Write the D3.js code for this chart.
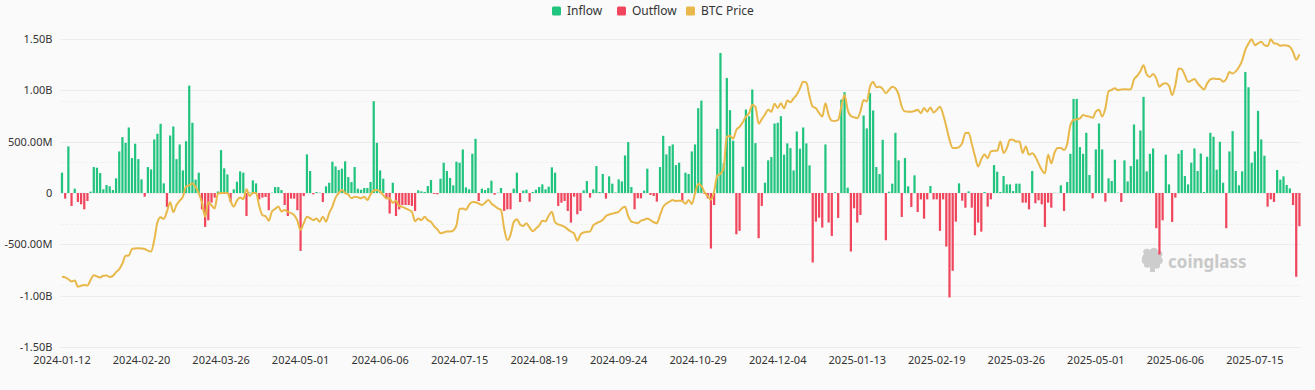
<!DOCTYPE html>
<html>
<head>
<meta charset="utf-8">
<script src="https://cdn.jsdelivr.net/npm/d3@7/dist/d3.min.js"></script>
<style>
  html, body { margin: 0; padding: 0; background: #fafafa; }
  svg { display: block; font-family: "Noto Sans", "Open Sans", sans-serif; }
</style>
</head>
<body>
<svg id="chart" width="1315" height="390"></svg>
<script>
// ---------- DATA ----------
const startDate = "2024-01-12";
const marketHolidays = ["2024-01-15","2024-02-19","2024-03-29","2024-05-27","2024-06-19","2024-07-04","2024-09-02","2024-11-28","2024-12-25","2025-01-01","2025-01-09","2025-01-20","2025-02-17","2025-04-18","2025-05-26","2025-06-19","2025-07-04"];
const tickLabels = ["2024-01-12","2024-02-20","2024-03-26","2024-05-01","2024-06-06","2024-07-15","2024-08-19","2024-09-24","2024-10-29","2024-12-04","2025-01-13","2025-02-19","2025-03-26","2025-05-01","2025-06-06","2025-07-15"];
const seriesNames = ["Inflow", "Outflow", "BTC Price"];

// Daily net flow (USD millions), one per trading day
const netFlowM = [
198,-55,454,-126,42,-87,-110,-159,-78,13,
253,246,194,36,78,65,29,143,405,544,
489,638,340,480,330,133,-36,253,230,522,
577,674,94,-136,560,648,330,473,220,505,
1046,684,130,198,-159,-330,-266,-94,-45,15,
418,240,181,-87,36,110,210,198,-224,5,
123,94,-62,-45,-39,-168,3,58,58,29,
-117,-224,-55,-55,-168,-564,-30,376,214,-13,
10,3,-87,65,100,305,259,224,237,308,
155,107,253,42,32,49,49,107,894,489,
220,139,-60,-200,100,-224,-159,-117,-117,-117,
-126,-175,26,16,10,68,126,-10,-13,139,
295,214,146,75,305,295,424,55,36,382,
528,-78,42,29,49,120,-16,3,49,-175,
-159,-159,42,198,-87,23,32,-84,10,32,
58,84,36,62,250,198,-126,-94,-78,-175,
-288,-36,-207,-175,26,117,-45,36,262,10,
185,-55,162,91,5,133,113,366,496,58,
-159,-52,-52,23,237,-19,-29,-84,253,557,
376,457,473,272,295,-78,198,185,405,473,
826,900,-10,-52,-541,-117,625,1364,288,1121,
807,509,-402,-369,256,813,748,1008,486,-440,
-126,100,318,350,677,684,748,373,483,437,
220,599,431,638,483,269,-677,-279,-240,-337,
473,-288,-418,6,-243,910,982,52,-570,-149,
-288,-214,755,629,975,804,253,185,518,-460,
13,91,586,318,-233,340,65,-136,172,-185,
-62,-250,-62,68,-62,-62,-369,-62,-522,-1017,
-758,-279,94,-75,-143,16,-143,-412,-288,-376,
10,-133,-62,272,207,10,165,84,84,19,
91,91,-94,-94,-159,214,-100,-71,-110,-330,
-94,-143,2,1,75,-175,107,382,917,917,
447,382,586,175,-52,424,677,424,-84,143,
117,324,3,-87,318,113,262,667,327,609,
936,211,382,434,-343,-600,-266,373,84,-282,
-45,382,418,165,84,295,434,214,385,10,
353,586,548,227,499,100,-343,405,603,214,
75,211,1179,1030,295,405,800,522,363,-133,
-62,-87,224,130,162,78,45,-117,-816,-324
];

// BTC price (USD thousands), one per trading day
const btcPriceK = [
42.8,42.6,42.0,41.3,41.6,39.6,39.9,40.1,40.0,41.8,
43.3,42.9,42.6,43.1,43.2,42.7,43.1,44.3,45.3,47.1,
49.6,49.7,51.8,52.0,52.1,52.0,51.8,51.3,51.0,54.7,
60.5,62.1,61.6,64.0,67.0,63.8,66.1,67.5,68.8,72.1,
72.5,73.1,72.0,69.9,67.0,62.3,67.0,66.0,65.0,69.8,
70.0,70.0,70.0,67.4,65.6,67.5,68.5,68.0,71.2,69.0,
70.0,70.0,65.8,62.8,62.5,61.0,64.0,64.8,65.6,64.0,
64.5,63.9,63.5,62.8,61.0,58.0,60.2,62.3,61.8,61.2,
61.7,60.7,62.3,60.7,63.5,65.6,68.5,70.0,71.0,70.0,
69.5,68.3,68.8,68.6,68.3,68.8,67.7,69.6,70.8,71.0,
70.5,69.3,68.3,68.3,66.8,67.5,65.8,65.5,65.0,64.5,
63.9,60.8,61.7,61.2,62.3,61.2,60.6,59.2,58.2,56.9,
57.2,57.5,57.5,57.8,59.5,64.8,65.0,64.6,66.2,67.1,
67.0,66.6,66.1,66.8,67.7,66.6,65.8,65.0,64.5,58.5,
54.7,56.4,60.5,61.5,59.8,59.3,60.2,58.8,57.6,58.5,
59.4,61.0,60.8,62.6,63.9,60.5,59.8,59.5,59.0,58.2,
57.5,56.8,54.5,56.5,57.2,57.4,57.5,59.5,60.2,60.6,
61.3,62.5,63.0,63.3,63.6,63.9,65.0,65.5,62.5,60.7,
60.4,60.2,61.0,61.3,61.7,61.2,60.5,60.2,62.8,65.5,
66.6,67.2,67.7,67.4,67.5,67.4,66.5,67.7,66.4,69.9,
72.9,72.3,70.2,69.0,67.8,70.5,75.6,76.2,78.0,88.3,
88.5,87.7,90.5,91.5,93.0,94.8,95.9,98.6,98.0,92.5,
94.0,95.5,97.0,96.4,99.0,97.6,99.1,97.5,100.0,99.5,
100.7,102.0,104.0,106.1,105.8,101.3,98.0,97.5,96.0,94.8,
99.1,95.3,93.5,93.4,93.7,98.0,101.8,97.0,95.0,94.6,
94.3,96.5,100.2,99.7,104.5,106.0,104.3,104.5,103.8,102.4,
103.5,104.5,104.0,102.0,98.0,96.5,96.4,96.4,96.6,97.0,
95.9,97.6,96.4,97.8,96.1,97.0,98.0,95.5,91.5,87.3,
84.6,84.6,84.9,86.2,89.5,89.6,86.0,82.0,78.6,81.0,
82.5,81.3,83.5,83.7,83.7,86.7,83.0,84.5,87.3,87.3,
86.7,86.7,83.0,85.1,82.4,82.9,81.8,79.6,77.5,76.4,
82.4,79.6,83.0,84.6,84.6,84.0,86.0,92.0,93.7,93.9,
94.2,95.3,95.0,94.8,94.4,96.4,97.0,94.8,97.5,103.0,
103.5,104.0,103.4,103.6,103.7,103.6,103.7,106.9,108.0,109.5,
111.5,108.5,107.7,108.6,107.2,104.5,105.4,105.6,104.8,101.8,
105.0,110.4,110.2,108.2,106.1,106.5,107.0,105.6,104.5,103.6,
105.6,106.9,107.2,107.0,107.0,106.1,107.0,109.3,108.8,109.5,
110.9,113.0,116.5,118.5,119.9,118.0,118.6,119.1,118.0,117.7,
119.9,118.6,118.4,117.8,118.0,117.9,117.5,115.8,113.3,115.0
];

const flowTicks = [-1.5e9, -1e9, -5e8, 0, 5e8, 1e9, 1.5e9];
const priceTicks = [20000, 40000, 60000, 80000, 100000, 120000];

const colors = { inflow: "#21c47f", outflow: "#f0465d", price: "#e8b84a" };

// ---------- CATEGORIES (US trading days) ----------
const holidaySet = new Set(marketHolidays);
const dates = [];
{
  const d = new Date(startDate + "T00:00:00Z");
  while (dates.length < netFlowM.length) {
    const wd = d.getUTCDay();
    const s = d.toISOString().slice(0, 10);
    if (wd !== 0 && wd !== 6 && !holidaySet.has(s)) dates.push(s);
    d.setUTCDate(d.getUTCDate() + 1);
  }
}
const inflow = netFlowM.map(v => v > 0 ? v * 1e6 : 0);
const outflow = netFlowM.map(v => v < 0 ? v * 1e6 : 0);
const price = btcPriceK.map(v => v * 1000);

// ---------- LAYOUT ----------
const W = 1315, H = 390;
const plot = { left: 60.4, right: 1301, top: 39, bottom: 347 };
const svg = d3.select("#chart");

const x = d3.scaleBand().domain(dates).range([plot.left, plot.right]).paddingInner(0.3).paddingOuter(0.15);
const y = d3.scaleLinear().domain([-1.5e9, 1.5e9]).range([plot.bottom, plot.top]);
const yP = d3.scaleLinear().domain([20000, 120000]).range([plot.bottom, plot.top]);

// grid lines (flow axis)
svg.append("g").selectAll("line").data(flowTicks).join("line")
  .attr("x1", plot.left).attr("x2", plot.right)
  .attr("y1", d => Math.round(y(d)) + 0.5).attr("y2", d => Math.round(y(d)) + 0.5)
  .attr("stroke", "#ececec").attr("stroke-width", 1);
// grid lines (price axis, hidden labels)
svg.append("g").selectAll("line").data(priceTicks.slice(1, -1)).join("line")
  .attr("x1", plot.left).attr("x2", plot.right)
  .attr("y1", d => Math.round(yP(d)) + 0.5).attr("y2", d => Math.round(yP(d)) + 0.5)
  .attr("stroke", "#f0f0f0").attr("stroke-width", 1).attr("stroke-dasharray", "3,2");

// y axis labels
const fmtFlow = v => {
  if (v === 0) return "0";
  const a = Math.abs(v);
  if (a >= 1e9) return (v / 1e9).toFixed(2) + "B";
  return (v / 1e6).toFixed(2) + "M";
};
const yAxis = d3.axisLeft(y).tickValues(flowTicks).tickFormat(fmtFlow).tickSize(0).tickPadding(8);
const gy = svg.append("g").attr("transform", `translate(${plot.left},0)`).call(yAxis);
gy.select(".domain").remove();
gy.selectAll("text").attr("fill", "#333").attr("font-size", 11).attr("font-family", "Noto Sans, sans-serif");

// x axis labels
const xAxis = d3.axisBottom(x).tickValues(tickLabels).tickSize(0).tickPadding(9);
const gx = svg.append("g").attr("transform", `translate(0,${plot.bottom})`).call(xAxis);
gx.select(".domain").remove();
gx.selectAll("text").attr("fill", "#333").attr("font-size", 11).attr("font-family", "Noto Sans, sans-serif");

// watermark
const wm = svg.append("g").attr("transform", "translate(1153,262)").attr("opacity", 0.9);
wm.append("path")
  .attr("d", "M-9,-8 C-12,-12 -6,-15 -3,-12 C-1,-15 4,-15 5,-11 C9,-12 11,-7 8,-5 C11,-3 10,2 7,2 C8,6 4,8 2,6 L2,10 L-3,10 L-3,5 C-6,7 -10,5 -9,2 C-12,1 -12,-5 -9,-8 Z")
  .attr("fill", "#c9c9c9");
wm.append("text").attr("x", 15).attr("y", 6).text("coinglass")
  .attr("fill", "#c4c4c4").attr("font-size", 17).attr("font-weight", 700)
  .attr("font-family", "Noto Sans, sans-serif");

// bars
const bw = x.bandwidth();
svg.append("g").selectAll("rect").data(dates).join("rect")
  .attr("x", (d) => x(d))
  .attr("width", bw)
  .attr("y", (d, i) => y(inflow[i]))
  .attr("height", (d, i) => y(0) - y(inflow[i]))
  .attr("fill", colors.inflow);
svg.append("g").selectAll("rect").data(dates).join("rect")
  .attr("x", (d) => x(d))
  .attr("width", bw)
  .attr("y", y(0))
  .attr("height", (d, i) => y(outflow[i]) - y(0))
  .attr("fill", colors.outflow);

// price line
const line = d3.line()
  .x((d, i) => x(dates[i]) + bw / 2)
  .y(d => yP(d))
  .curve(d3.curveMonotoneX);
svg.append("path").datum(price).attr("d", line)
  .attr("fill", "none").attr("stroke", colors.price).attr("stroke-width", 2);

// legend
const legendItems = [
  { name: seriesNames[0], color: colors.inflow, x: 552 },
  { name: seriesNames[1], color: colors.outflow, x: 617 },
  { name: seriesNames[2], color: colors.price, x: 686 }
];
const lg = svg.append("g");
legendItems.forEach(it => {
  lg.append("rect").attr("x", it.x).attr("y", 6.5).attr("width", 9).attr("height", 9).attr("rx", 1.5).attr("fill", it.color);
  lg.append("text").attr("x", it.x + 15).attr("y", 15).text(it.name)
    .attr("fill", "#333").attr("font-size", 12).attr("font-family", "Noto Sans, sans-serif");
});
</script>
</body>
</html>
